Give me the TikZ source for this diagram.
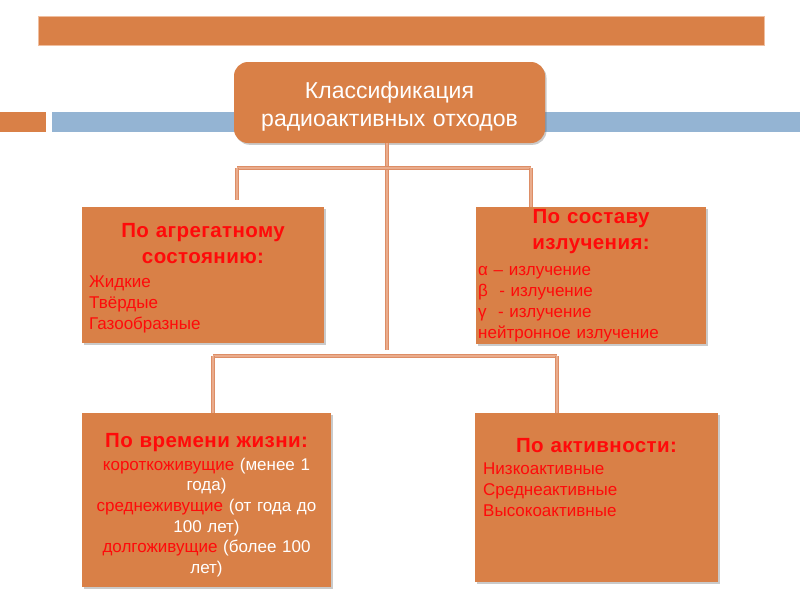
\documentclass[tikz,border=0pt]{standalone}
\usepackage{fontspec}
\setmainfont{Liberation Sans}
\usetikzlibrary{shadows}
\definecolor{boxorange}{RGB}{217,128,71}
\definecolor{barblue}{RGB}{148,180,211}
\definecolor{txtred}{RGB}{255,10,10}
\definecolor{lineout}{RGB}{221,142,102}
\definecolor{linein}{RGB}{234,172,140}
\definecolor{edgelight}{RGB}{240,190,158}
\tikzset{
  box/.style={fill=boxorange, draw=none, inner sep=0pt,
    drop shadow={shadow xshift=1.5pt, shadow yshift=-1.8pt, opacity=0.35, fill=black!60}},
  conn/.style={draw=lineout, line width=3.6pt, postaction={draw=linein, line width=1.3pt}},
  ttl/.style={font=\fontsize{20.5}{26.5}\selectfont\bfseries\addfontfeatures{LetterSpace=2}, text=txtred, anchor=base,
    text width=240pt, align=center, inner sep=0pt},
  lst/.style={font=\fontsize{17}{21}\selectfont, text=txtred, anchor=base west,
    text width=235pt, align=left, inner sep=0pt},
  lstc/.style={font=\fontsize{17}{20.7}\selectfont, text=white, anchor=base,
    text width=245pt, align=center, inner sep=0pt}
}
\begin{document}
\begin{tikzpicture}[x=1pt,y=-1pt]
\useasboundingbox (0,0) rectangle (800,600);
% top bar
\node[fill=boxorange, draw=edgelight, line width=1pt, inner sep=0pt,
  minimum width=726pt, minimum height=29pt] (topbar) at (401,30.5) {};
% left square and blue bar
\node[fill=boxorange, inner sep=0pt, minimum width=46pt, minimum height=20pt] (sq) at (23,122) {};
\node[fill=barblue, inner sep=0pt, minimum width=748pt, minimum height=20pt] (bar) at (426,122) {};
% central box
\node[box, rounded corners=14pt, minimum width=311pt, minimum height=81pt] (top) at (389.5,102.5) {};
\node[font=\fontsize{23}{28}\selectfont, text=white, anchor=base, text width=300pt,
  align=center, inner sep=0pt] (toptxt) at (389.5,98) {Классификация\\радиоактивных отходов};
% connector coordinates
\coordinate (cv) at (387,350);
\coordinate (hl1) at (237,168);
\coordinate (hr1) at (531,168);
\coordinate (dl1) at (237,200);
\coordinate (hl2) at (213,356);
\coordinate (hr2) at (557,356);
% boxes
\node[box, minimum width=242pt, minimum height=136pt] (b1) at (203,275) {};
\node[box, minimum width=230pt, minimum height=137pt] (b2) at (591,275.5) {};
\node[box, minimum width=249pt, minimum height=174pt] (b3) at (206.5,500) {};
\node[box, minimum width=243pt, minimum height=169pt] (b4) at (596.5,497.5) {};
% connectors
\draw[conn] (top.south -| cv) -- (cv);
\draw[conn] (hl1) -- (hr1);
\draw[conn] (hl1) -- (dl1);
\draw[conn] (hr1) -- (hr1 |- b2.north);
\draw[conn] (hl2) -- (hr2);
\draw[conn] (hl2) -- (hl2 |- b3.north);
\draw[conn] (hr2) -- (hr2 |- b4.north);
% box 1 text
\node[ttl] (t1) at (203,237) {По агрегатному\\состоянию:};
\node[lst] (l1) at (89,287) {Жидкие\\Твёрдые\\Газообразные};
% box 2 text
\node[ttl] (t2) at (591,223) {По составу\\излучения:};
\node[lst] (l2) at (478,275) {α – излучение\\β\ \ - излучение\\γ\ \ - излучение\\нейтронное излучение};
% box 3 text
\node[ttl] (t3) at (206.5,447) {По времени жизни:};
\node[lstc] (l3) at (206.5,470) {{\color{txtred}короткоживущие} (менее 1\\года)\\{\color{txtred}среднеживущие} (от года до\\100 лет)\\{\color{txtred}долгоживущие} (более 100\\лет)};
% box 4 text
\node[ttl] (t4) at (596.5,452) {По активности:};
\node[lst] (l4) at (483,474) {Низкоактивные\\Среднеактивные\\Высокоактивные};
\end{tikzpicture}
\end{document}
